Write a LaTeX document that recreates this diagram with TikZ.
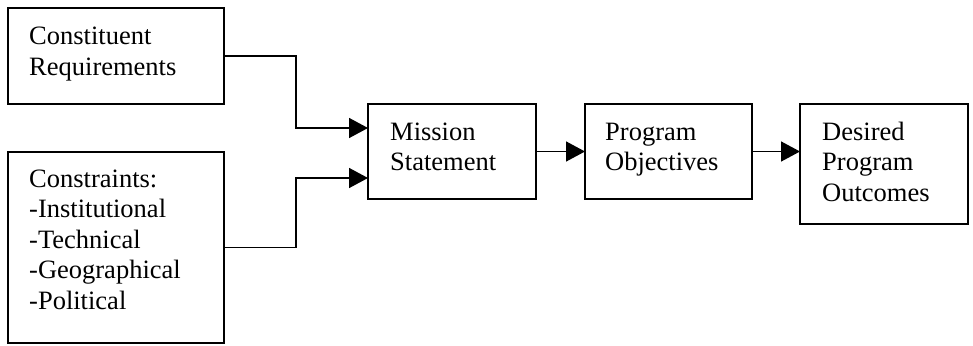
\documentclass[tikz,border=0pt]{standalone}
\usepackage{fontspec}
\setmainfont{Liberation Serif}
\usetikzlibrary{arrows.meta}
\begin{document}
\begin{tikzpicture}[x=1pt,y=-1pt,
  box/.style={draw, line width=1.5pt, inner sep=0pt, outer sep=0pt, anchor=north west},
  txt/.style={inner sep=0pt, anchor=base west, font=\fontsize{26.5}{30.5}\selectfont},
  arr/.style={line width=1.5pt, -{Triangle[length=19pt,width=20pt]}}]
\useasboundingbox (0,0) rectangle (973,345);
\node[box, minimum width=216pt, minimum height=96pt] (cr) at (8,8) {};
\node[box, minimum width=216pt, minimum height=191pt] (cs) at (8,152) {};
\node[box, minimum width=168pt, minimum height=95pt] (ms) at (368,104) {};
\node[box, minimum width=167pt, minimum height=95pt] (po) at (585,104) {};
\node[box, minimum width=168pt, minimum height=120pt] (dp) at (800,104) {};
\node[txt] (tcr) at (29,45) {\begin{tabular}[t]{@{}l@{}}Constituent\\Requirements\end{tabular}};
\node[txt] (tcs) at (29,187) {\begin{tabular}[t]{@{}l@{}}Constraints:\\-Institutional\\-Technical\\-Geographical\\-Political\end{tabular}};
\node[txt] (tms) at (390,140) {\begin{tabular}[t]{@{}l@{}}Mission\\Statement\end{tabular}};
\node[txt] (tpo) at (605,140) {\begin{tabular}[t]{@{}l@{}}Program\\Objectives\end{tabular}};
\node[txt] (tdp) at (822,140) {\begin{tabular}[t]{@{}l@{}}Desired\\Program\\Outcomes\end{tabular}};
\coordinate (in1) at ([yshift=23.5pt]ms.west);
\coordinate (in2) at ([yshift=-26.5pt]ms.west);
\draw[arr] (cr.east) -- ++(72,0) |- (in1);
\draw[arr] (cs.east) -- ++(72,0) |- (in2);
\draw[arr] (ms.east) -- (po.west);
\draw[arr] (po.east) -- (po.east -| dp.west);
\end{tikzpicture}
\end{document}
